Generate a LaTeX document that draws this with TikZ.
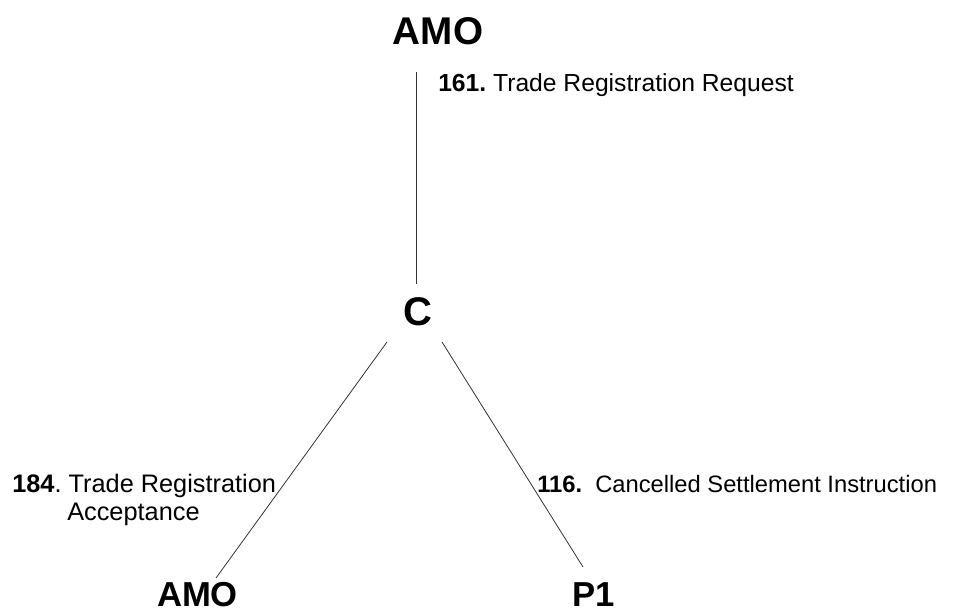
\documentclass[tikz,border=0pt]{standalone}
\usepackage{fontspec}
\setmainfont{Liberation Sans}
\frenchspacing

\tikzset{
  party/.style={font=\bfseries\fontsize{#1}{#1}\selectfont, inner sep=0pt, anchor=base},
  party/.default=29,
  msg/.style={font=\fontsize{#1}{#1}\selectfont, inner sep=0pt, anchor=base west},
  msg/.default=18.5,
  link/.style={draw, line width=0.6pt, black!80}
}

\begin{document}
\begin{tikzpicture}[x=0.75pt, y=-0.75pt]
    \useasboundingbox (0,0) rectangle (974,616);
    % parties
    \node[party] (amoTop) at (438,45) {AMO};
    \node[party=30] (clr) at (418,326) {C};
    \node[party=26] (amoBot) at (197.5,606) {AMO};
    \node[party=26] (p1) at (593.5,606) {P1};
    % flows between them
    \draw[link] ([shift={(-22,27)}]amoTop.base) -- ([shift={(-2,-42)}]clr.base);
    \draw[link] ([shift={(-31,16)}]clr.base) -- ([shift={(18.5,-28)}]amoBot.base);
    \draw[link] ([shift={(24,16)}]clr.base) -- ([shift={(-10.5,-39)}]p1.base);
    % message labels
    \node[msg] (m161) at (438,92) {\textbf{161.} Trade Registration Request};
    \node[msg=19] (m184) at (12,492) {\textbf{184}. Trade Registration};
    \node[msg=19] (m184b) at (67,520) {Acceptance};
    \node[msg=17.8] (m116) at (537,492) {\textbf{116.}\ \ Cancelled Settlement Instruction};
\end{tikzpicture}
\end{document}
